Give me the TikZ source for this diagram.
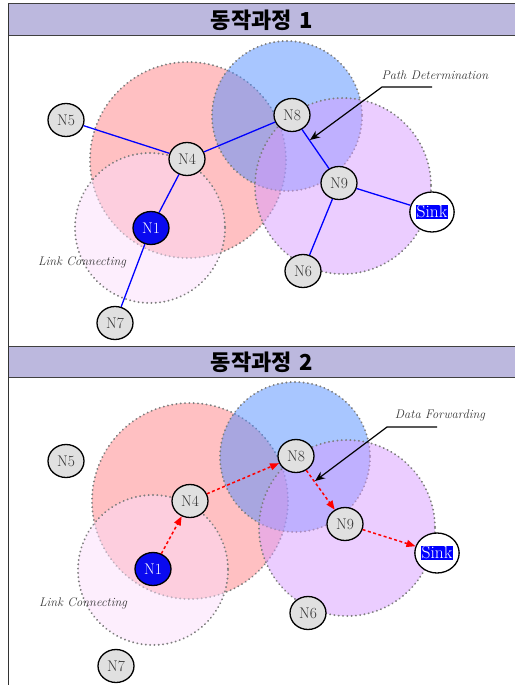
\documentclass[tikz,border=0pt]{standalone}
\usepackage{fontspec}
\newfontfamily\krfont{Noto Sans CJK KR}
\usetikzlibrary{shapes.geometric,arrows.meta}
\definecolor{headbg}{RGB}{188,184,222}
\definecolor{rangered}{RGB}{255,129,133}
\definecolor{rangeblue}{RGB}{81,141,255}
\definecolor{rangeviolet}{RGB}{215,155,255}
\definecolor{rangepink}{RGB}{251,221,251}
\definecolor{nodegray}{RGB}{224,224,224}
\definecolor{srcblue}{RGB}{10,10,240}
\definecolor{labelgray}{RGB}{55,55,55}
\definecolor{dotgray}{RGB}{125,125,125}
\tikzset{
  coverage/.style={draw=dotgray, line width=2.1pt, dash pattern=on 0.01pt off 4.3pt, line cap=round},
  sensor/.style={ellipse, draw=black, line width=1.3pt, fill=nodegray, minimum width=36pt, minimum height=33pt, inner sep=0pt, font=\fontsize{15.5}{17}\selectfont, text=black!80},
  source/.style={sensor, fill=srcblue, text=white},
  sinknode/.style={sensor, fill=white, minimum width=42pt, minimum height=40pt, font=\fontsize{17.5}{19}\selectfont},
  link/.style={draw=blue, line width=1.3pt},
  hop/.style={draw=red, line width=1.5pt, dash pattern=on 3pt off 2.5pt, -{Triangle[length=9pt,width=7pt]}},
  note/.style={font=\fontsize{12.5}{14}\selectfont\itshape, text=labelgray},
  pointer/.style={draw=black, line width=1.2pt, -{Stealth[length=10pt,width=8pt]}},
  header/.style={fill=headbg, draw=black!75, line width=1pt},
  headtext/.style={font=\krfont\bfseries\fontsize{22}{24}\selectfont}
}
\newcommand{\sinktext}{{\setlength{\fboxsep}{0.3pt}\colorbox{blue}{\textcolor{white}{Sink}}}}
\begin{document}
\begin{tikzpicture}[x=1pt,y=-1pt]
\useasboundingbox (0,0) rectangle (514,685);

% frame and headers
\draw[header] (8,4) rectangle (520,36);
\node[headtext] (h1) at (262,20) {동작과정\hspace{0.35em}1};
\draw[header] (8,346) rectangle (520,377);
\node[headtext] (h2) at (262,362) {동작과정\hspace{0.35em}2};
\draw[black!80, line width=1pt] (8,4) -- (8,690);

% ---------- stage 1 ----------
\fill[rangered, fill opacity=0.5] (188,160) circle (98);
\draw[coverage] (188,160) circle (98);
\fill[rangepink, fill opacity=0.5] (150,228) circle (75);
\draw[coverage] (150,228) circle (75);
\fill[rangeblue, fill opacity=0.5] (287,116) circle (75);
\draw[coverage] (287,116) circle (75);
\fill[rangeviolet, fill opacity=0.5] (343,186) circle (88);
\draw[coverage] (343,186) circle (88);

\node[sensor] (a5) at (66,120) {N5};
\node[sensor] (a4) at (187,159) {N4};
\node[source] (a1) at (151,228) {N1};
\node[sensor] (a8) at (292,115) {N8};
\node[sensor] (a9) at (339,183) {N9};
\node[sinknode] (as) at (432,212) {\sinktext};
\node[sensor] (a6) at (303,271) {N6};
\node[sensor] (a7) at (115,323) {N7};

\draw[link] (a5) -- (a4);
\draw[link] (a4) -- (a8);
\draw[link] (a4) -- (a1);
\draw[link] (a1) -- (a7);
\draw[link] (a8) -- (a9);
\draw[link] (a9) -- (as);
\draw[link] (a9) -- (a6);

\node[note] (pd) at (435,75) {Path Determination};
\coordinate (pd1) at (432,87);
\coordinate (pd2) at (382,87);
\coordinate (pd3) at (310,140);
\draw[pointer] (pd1) -- (pd2) -- (pd3);
\node[note] (lc1) at (82,262) {Link Connecting};

% ---------- stage 2 ----------
\fill[rangered, fill opacity=0.5] (190,501) circle (98);
\draw[coverage] (190,501) circle (98);
\fill[rangepink, fill opacity=0.5] (153,570) circle (75);
\draw[coverage] (153,570) circle (75);
\fill[rangeblue, fill opacity=0.5] (295,457) circle (75);
\draw[coverage] (295,457) circle (75);
\fill[rangeviolet, fill opacity=0.5] (347,528) circle (88);
\draw[coverage] (347,528) circle (88);

\node[sensor] (b5) at (66,461) {N5};
\node[sensor] (b4) at (190,501) {N4};
\node[source] (b1) at (153,569) {N1};
\node[sensor] (b8) at (296,456) {N8};
\node[sensor] (b9) at (345,524) {N9};
\node[sinknode] (bs) at (437,553) {\sinktext};
\node[sensor] (b6) at (308,613) {N6};
\node[sensor] (b7) at (116,666) {N7};

\draw[hop] (b1) -- (b4);
\draw[hop] (b4) -- (b8);
\draw[hop] (b8) -- (b9);
\draw[hop] (b9) -- (bs);

\node[note] (df) at (440,415) {Data Forwarding};
\coordinate (df1) at (437,427);
\coordinate (df2) at (387,427);
\coordinate (df3) at (315,481);
\draw[pointer] (df1) -- (df2) -- (df3);
\node[note] (lc2) at (83,603) {Link Connecting};
\end{tikzpicture}
\end{document}
